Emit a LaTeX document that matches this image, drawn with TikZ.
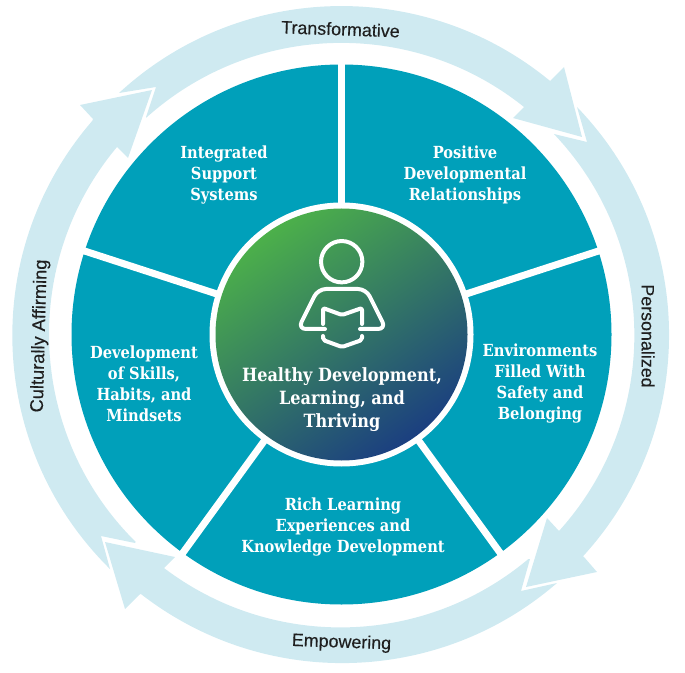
\documentclass[tikz,border=0pt]{standalone}
\usepackage{fontspec}
\usetikzlibrary{calc}
\newfontfamily\slabfont[FakeStretch=0.88]{DejaVu Serif}
\newfontfamily\ringfont[FakeBold=0.25]{Liberation Sans}
\definecolor{teal1}{HTML}{00A0BA}
\definecolor{ringc}{HTML}{CFEAF1}
\definecolor{gradg}{HTML}{4CB04A}
\definecolor{gradn}{HTML}{1B3F80}
\definecolor{inkc}{HTML}{1F1F1F}
\tikzset{
  ringarrow/.style={fill=ringc,draw=none},
  spoke/.style={draw=white,line width=5.25pt},
  seglabel/.style={text=white,align=center,font=\slabfont\bfseries\fontsize{12.5}{15.75}\selectfont,inner sep=0pt},
  hublabel/.style={text=white,align=center,font=\slabfont\bfseries\fontsize{13.7}{17.2}\selectfont,inner sep=0pt},
  icon/.style={draw=white,line width=3pt,line cap=round,line join=round},
  ringlabel/.style={text=inkc,inner sep=0pt,font=\ringfont\fontsize{13.4}{15}\selectfont}
}
\begin{document}
\begin{tikzpicture}[x=0.75pt,y=0.75pt]
\useasboundingbox (0,0) rectangle (685,672);
\coordinate (C) at (341.5,337.5);
% ring arrows
\fill[ringarrow] (119,579) arc[start angle=132.7,end angle=50.6,radius=246pt] -- (550,591) -- (564,605) -- (582,535) -- (513,554) -- (524,565) arc[start angle=51.3,end angle=131.95,radius=219pt] -- (146,555) -- (156,585) -- cycle;
\fill[ringarrow] (577,565) arc[start angle=44,end angle=-42.5,radius=246pt] -- (584,115) -- (597,100) -- (526,85) -- (547,154) -- (559,141) arc[start angle=-42.1,end angle=43.3,radius=219pt] -- (554,538) -- (587,530) -- cycle;
\fill[ringarrow] (557,89) arc[start angle=-49.1,end angle=-127.9,radius=246pt] -- (139,77) -- (125,63) -- (105,130) -- (175,115) -- (164,104) arc[start angle=-127.2,end angle=-50,radius=219pt] -- (530,113) -- (521,81) -- cycle;
\fill[ringarrow] (110,103) arc[start angle=225.4,end angle=139.1,radius=246pt] -- (93,553) -- (80,567) -- (152,582) -- (128,514) -- (117,525) arc[start angle=140.1,end angle=225.3,radius=219pt] -- (135,129) -- (101,136) -- cycle;
% ring labels
\node[ringlabel,rotate=-2] (r1) at (340.5,643) {Transformative};
\node[ringlabel,rotate=-90] (r2) at (648,336) {Personalized};
\node[ringlabel,rotate=-2] (r3) at (341.5,29) {Empowering};
\node[ringlabel,rotate=88.5,font=\ringfont\fontsize{13.7}{15}\selectfont] (r4) at (40,336) {Culturally Affirming};
% disc
\fill[teal1] (C) circle[radius=202.5pt];
\foreach \a in {90,18,-54,-126,162} \draw[spoke] (C) -- ++(\a:273);
\fill[white] (C) circle[radius=99pt];
\shade[top color=gradg,bottom color=gradn,shading angle=35] (C) circle[radius=94.5pt];
% icon
\draw[icon] (341.7,410.3) circle[radius=15.5pt];
\draw[icon,rounded corners=6pt] (325,343) -- (298,343) -- (318,383) -- (366,383) -- (386,343) -- (360,343);
\draw[icon,rounded corners=1.5pt] (323,348) -- (323,364) -- (342,357) -- (362,364) -- (362,348);
\draw[icon,rounded corners=1.5pt] (323,336) -- (323,332) -- (342,325) -- (362,332) -- (362,336);
% labels
\node[seglabel] (s1) at (465,497) {Positive\\Developmental\\Relationships};
\node[seglabel] (s2) at (540,288.5) {Environments\\Filled With\\Safety and\\Belonging};
\node[seglabel] (s3) at (343,144.5) {Rich Learning\\Experiences and\\Knowledge Development};
\node[seglabel] (s4) at (144,288.5) {Development\\of Skills,\\Habits, and\\Mindsets};
\node[seglabel] (s5) at (224,497) {Integrated\\Support\\Systems};
\node[hublabel] (hub) at (342,272) {Healthy Development,\\Learning, and\\Thriving};
\end{tikzpicture}
\end{document}
